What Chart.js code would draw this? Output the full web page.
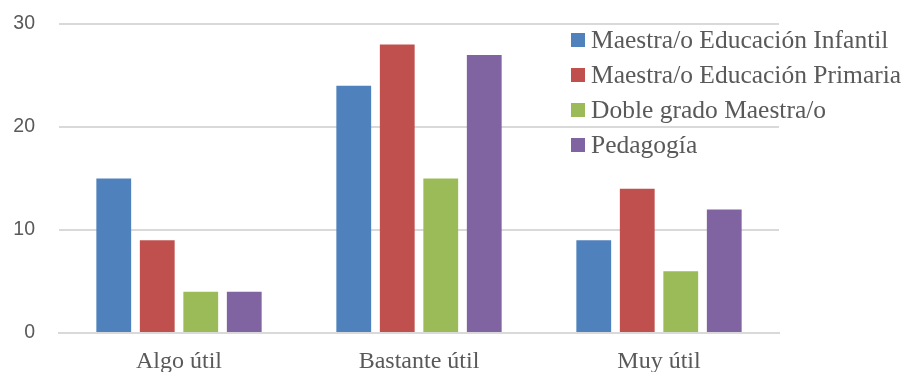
<!DOCTYPE html>
<html>
<head>
<meta charset="utf-8">
<script src="https://cdn.jsdelivr.net/npm/chart.js@4/dist/chart.umd.min.js"></script>
<style>
  html, body { margin: 0; padding: 0; background: #fff; }
  #wrap { width: 917px; height: 372px; }
</style>
</head>
<body>
<div id="wrap"><canvas id="chart" width="917" height="372"></canvas></div>
<script>
// --- DATOS ---
const categories = ['Algo útil', 'Bastante útil', 'Muy útil'];
const seriesNames = [
  'Maestra/o Educación Infantil',
  'Maestra/o Educación Primaria',
  'Doble grado Maestra/o',
  'Pedagogía'
];
const infantil = [15, 24, 9];
const primaria = [9, 28, 14];
const dobleGrado = [4, 15, 6];
const pedagogia = [4, 27, 12];
const yTicks = [0, 10, 20, 30];

const colors = ['#4F81BD', '#C0504D', '#9BBB59', '#8064A2'];
const allValues = [infantil, primaria, dobleGrado, pedagogia];

// leyenda dibujada dentro del área del gráfico (como en el original)
const overlayLegend = {
  id: 'overlayLegend',
  afterDraw(chart) {
    const c = chart.ctx;
    c.save();
    c.font = '25.5px "Liberation Serif", "Times New Roman", serif';
    c.textBaseline = 'middle';
    chart.data.datasets.forEach((ds, i) => {
      const y = 40 + i * 35;
      c.fillStyle = ds.backgroundColor;
      c.fillRect(571, y - 7, 14, 14);
      c.fillStyle = '#595959';
      c.fillText(ds.label, 591, y + 1);
    });
    c.restore();
  }
};

const ctx = document.getElementById('chart').getContext('2d');
new Chart(ctx, {
  type: 'bar',
  data: {
    labels: categories,
    datasets: seriesNames.map((name, i) => ({
      label: name,
      data: allValues[i],
      backgroundColor: colors[i],
      categoryPercentage: 0.725,
      barPercentage: 0.8
    }))
  },
  options: {
    responsive: false,
    animation: false,
    layout: { padding: { top: 24, right: 138, left: 0, bottom: 0 } },
    plugins: {
      legend: { display: false },
      tooltip: { enabled: false }
    },
    scales: {
      x: {
        grid: { display: false, drawTicks: false },
        border: { display: true, color: '#D9D9D9', width: 2 },
        ticks: {
          color: '#595959',
          padding: 14,
          font: { family: '"Liberation Serif", "Times New Roman", serif', size: 24 }
        },
        afterFit(scale) { scale.height = 39; }
      },
      y: {
        min: 0,
        max: 30,
        afterBuildTicks(scale) { scale.ticks = yTicks.map(v => ({ value: v })); },
        grid: { color: '#D9D9D9', lineWidth: 2, drawTicks: false },
        border: { display: false },
        ticks: {
          color: '#595959',
          padding: 24,
          font: { family: '"Liberation Sans", Arial, sans-serif', size: 19.5 }
        },
        afterFit(scale) {
          scale.width = 59;
          scale.paddingTop = 0;
          scale.paddingBottom = 0;
        }
      }
    }
  },
  plugins: [overlayLegend]
});
</script>
</body>
</html>
